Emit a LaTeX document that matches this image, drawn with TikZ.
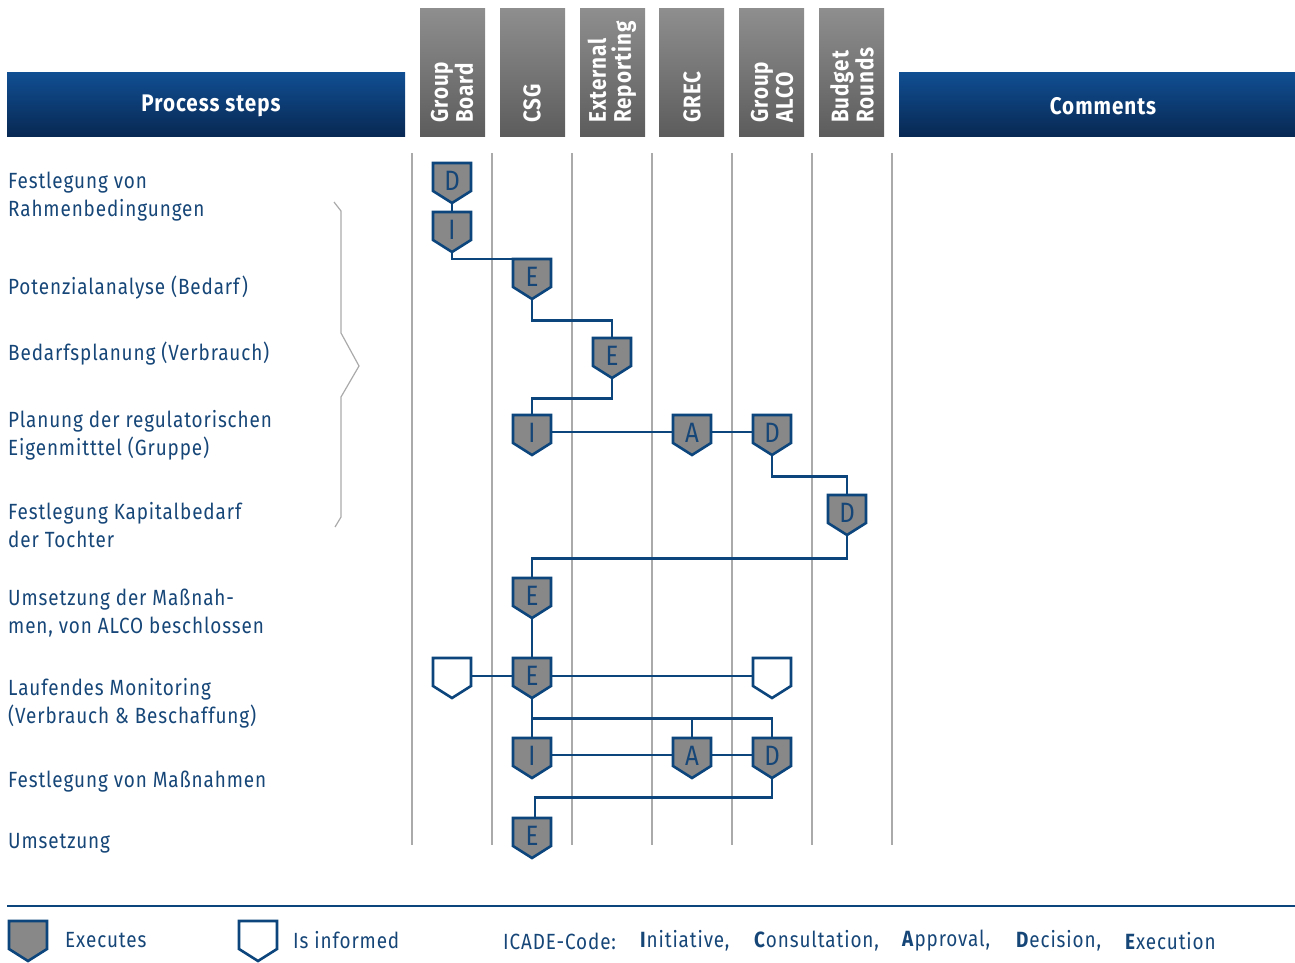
\documentclass[tikz,border=0pt]{standalone}
\usepackage{fontspec}
\setmainfont{Fira Sans}[FakeStretch=0.86, LetterSpace=4]
\usetikzlibrary{calc}

\pgfdeclarelayer{bg}
\pgfsetlayers{bg,main}

\definecolor{icblue}{RGB}{12,68,124}
\definecolor{ictext}{RGB}{22,70,120}
\definecolor{shieldgray}{RGB}{136,136,136}
\definecolor{lanegray}{RGB}{170,170,170}

% shield: name, x, top, letter, fill
\newcommand{\shield}[5]{%
  \draw[shieldline, fill=#5] (#2-19,#3) -- (#2+19,#3) -- (#2+19,#3+28)
    -- (#2,#3+40) -- (#2-19,#3+28) -- cycle;
  \node[shieldtext] (#1) at (#2,#3+20) {\raisebox{4pt}{#4}};
}

\begin{document}
\begin{tikzpicture}[x=1pt, y=-1pt,
  every node/.style={font=\fontsize{22}{28}\selectfont, text=ictext},
  steplabel/.style={anchor=west, align=left, inner sep=0pt},
  shieldline/.style={draw=icblue, line width=2.6pt, line join=miter},
  shieldtext/.style={minimum width=38pt, minimum height=40pt, inner sep=0pt,
    font=\fontsize{28}{28}\selectfont},
  flow/.style={draw=icblue, line width=2.6pt},
  lane/.style={draw=lanegray, line width=1.6pt},
  bluehead/.style={top color={rgb,255:red,16;green,78;blue,146}, bottom color={rgb,255:red,8;green,40;blue,82}},
  grayhead/.style={top color={rgb,255:red,142;green,142;blue,142}, bottom color={rgb,255:red,92;green,92;blue,92}},
  headtext/.style={text=white, font=\fontsize{24}{25}\selectfont\bfseries},
  colhead/.style={headtext, rotate=90, anchor=west, align=left, inner sep=0pt}]

\useasboundingbox (0,0) rectangle (1295,963);

% HEADER
\shade[bluehead] (7,73) rectangle (405,137);
\shade[bluehead] (899,73) rectangle (1295,137);
\node[headtext] (hsteps) at (211,106) {Process steps};
\node[headtext] (hcomm) at (1103,106) {Comments};

\foreach \xl/\xm/\name/\txt in {420/452/gb/{Group\\Board}, 500/532/csg/CSG,
    580/612/er/{External\\Reporting}, 659/692/grec/GREC,
    739/772/alco/{Group\\ALCO}, 819/852/br/{Budget\\Rounds}} {
  \shade[grayhead] (\xl,9) rectangle (\xl+65,137);
  \node[colhead] (h\name) at (\xm,123) {\txt};
}

% PROCESS STEPS
\node[steplabel] (s1) at (8,197) {Festlegung von\\Rahmenbedingungen};
\node[steplabel] (s2) at (8,288) {Potenzialanalyse (Bedarf)};
\node[steplabel] (s3) at (8,354) {Bedarfsplanung (Verbrauch)};
\node[steplabel] (s4) at (8,435) {Planung der regulatorischen\\Eigenmitttel (Gruppe)};
\node[steplabel] (s5) at (8,525) {Festlegung Kapitalbedarf\\der Tochter};
\node[steplabel] (s6) at (8,613) {Umsetzung der Maßnah-\\men, von ALCO beschlossen};
\node[steplabel] (s7) at (8,703) {Laufendes Monitoring\\(Verbrauch \& Beschaffung)};
\node[steplabel] (s8) at (8,782) {Festlegung von Maßnahmen};
\node[steplabel] (s9) at (8,843) {Umsetzung};

% brace
\draw[lane, line width=1.2pt] (334,202) -- (341,211) -- (341,333) -- (359,366)
  -- (341,397) -- (341,517) -- (335,527);

% SHIELDS
\shield{gbD}{452}{163}{D}{shieldgray}
\shield{gbI}{452}{212}{I}{shieldgray}
\shield{csgE}{532}{259}{E}{shieldgray}
\shield{erE}{612}{338}{E}{shieldgray}
\shield{csgI}{532}{415}{I}{shieldgray}
\shield{grecA}{692}{415}{A}{shieldgray}
\shield{alcoD}{772}{415}{D}{shieldgray}
\shield{brD}{847}{495}{D}{shieldgray}
\shield{csgEb}{532}{578}{E}{shieldgray}
\shield{csgEc}{532}{658}{E}{shieldgray}
\shield{gbInf}{452}{658}{}{white}
\shield{alcoInf}{772}{658}{}{white}
\shield{csgIb}{532}{738}{I}{shieldgray}
\shield{grecAb}{692}{738}{A}{shieldgray}
\shield{alcoDb}{772}{738}{D}{shieldgray}
\shield{csgEd}{532}{818}{E}{shieldgray}

% LANES + CONNECTORS (behind the shields)
\begin{pgfonlayer}{bg}
\foreach \x in {412,492,572,652,732,812,892}
  \draw[lane] (\x,153) -- (\x,845);

\draw[flow] (gbD.south) -- (gbI.north);
\draw[flow] (gbI.south) |- (csgE.north);
\draw[flow] (csgE.south) -- ++(0,21) -| (erE.north);
\draw[flow] (erE.south) -- ++(0,20) -| (csgI.north);
\draw[flow] ([yshift=3pt]csgI.east) -- ([yshift=3pt]alcoD.west);
\draw[flow] (alcoD.south) -- ++(0,21) -| (brD.north);
\draw[flow] (brD.south) -- ++(0,23) -| (csgEb.north);
\draw[flow] (csgEb.south) -- (csgEc.north);
\draw[flow] ([yshift=2pt]gbInf.east) -- ([yshift=2pt]alcoInf.west);
\draw[flow] (csgEc.south) -- (csgIb.north);
\coordinate (split) at ($(csgEc.south)+(0,20)$);
\draw[flow] (split) -| (alcoDb.north);
\draw[flow] (grecAb.north) |- (split);
\draw[flow] ([yshift=3pt]csgIb.east) -- ([yshift=3pt]alcoDb.west);
\draw[flow] (alcoDb.south) -- ++(0,19) -| ([xshift=3pt]csgEd.north);
\end{pgfonlayer}

% LEGEND
\draw[icblue, line width=1.5pt] (7,906) -- (1295,906);
\shield{legExec}{28}{921}{}{shieldgray}
\shield{legInf}{258}{921}{}{white}
\node[steplabel] (tExec) at (65,940) {Executes};
\node[steplabel] (tInf) at (293,940) {Is informed};
\node[steplabel] (tCode) at (503,941) {ICADE-Code:};
\node[steplabel] (tI) at (640,941) {\textbf{I}nitiative,};
\node[steplabel] (tC) at (754,941) {\textbf{C}onsultation,};
\node[steplabel] (tA) at (902,941) {\textbf{A}pproval,};
\node[steplabel] (tD) at (1016,941) {\textbf{D}ecision,};
\node[steplabel] (tE) at (1125,941) {\textbf{E}xecution};

\end{tikzpicture}
\end{document}
